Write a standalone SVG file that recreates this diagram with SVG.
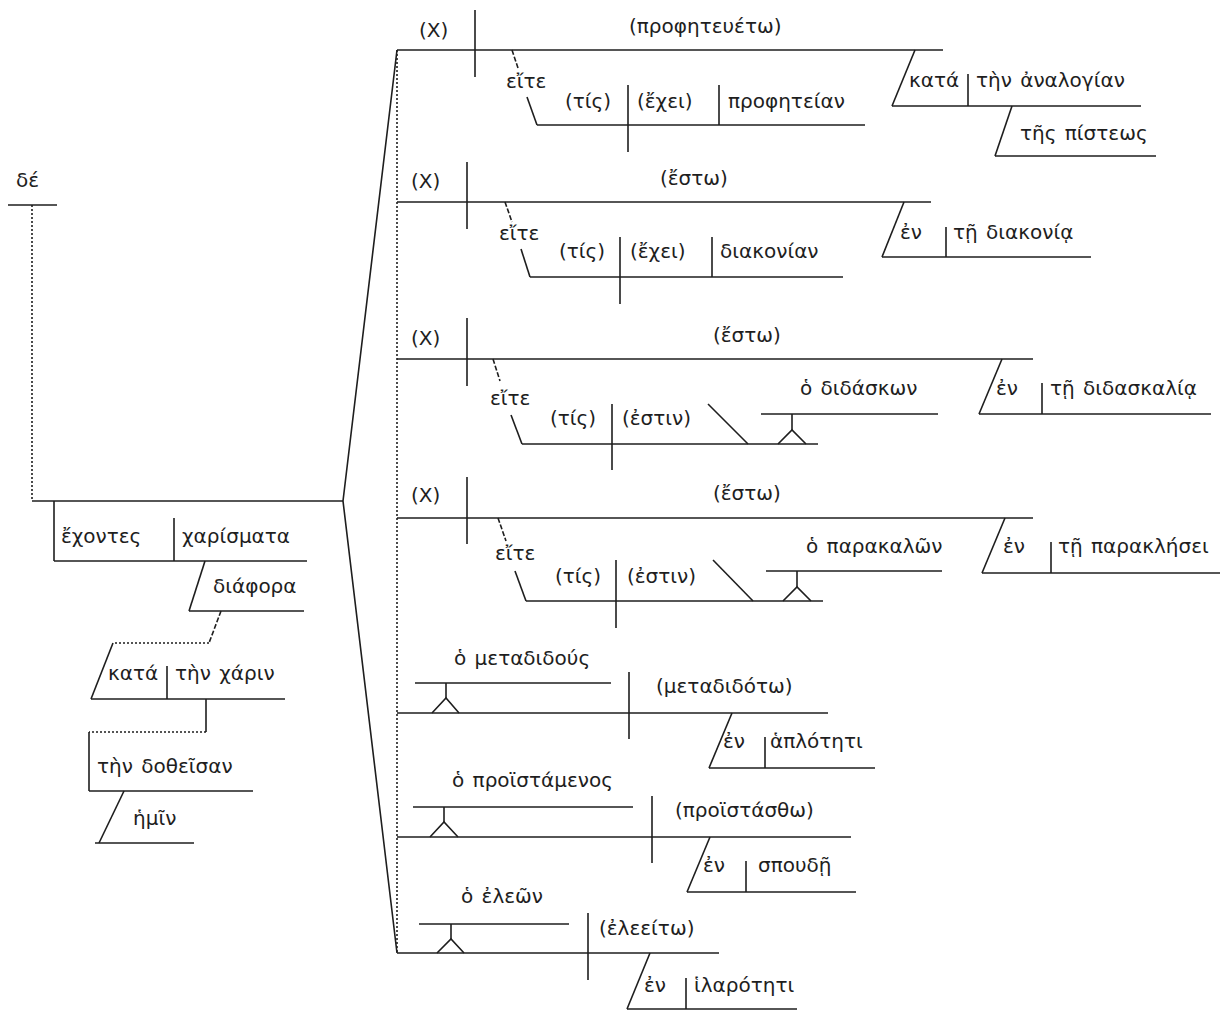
<svg xmlns="http://www.w3.org/2000/svg" width="1221" height="1011" viewBox="0 0 1221 1011">
<style>
.t{font-family:"DejaVu Sans","Noto Sans",sans-serif;font-size:20px;fill:#1e1e1e;word-spacing:2px}
.l{stroke:#1e1e1e;stroke-width:1.6;fill:none}
.d{stroke:#1e1e1e;stroke-width:1.6;fill:none;stroke-dasharray:2 2}
.s{stroke:#1e1e1e;stroke-width:1.6;fill:none;stroke-dasharray:5 2}
</style>
<rect width="1221" height="1011" fill="#ffffff"/>
<g id="connectors">
  <line class="d" x1="32" y1="205" x2="32" y2="501"/>
  <line class="l" x1="32" y1="501" x2="343" y2="501"/>
  <line class="l" x1="54" y1="501" x2="54" y2="561"/>
  <line class="l" x1="174" y1="518" x2="174" y2="561"/>
  <line class="l" x1="205" y1="561" x2="189" y2="611"/>
  <line class="s" x1="221" y1="611" x2="209" y2="643"/>
  <line class="d" x1="209" y1="643" x2="113" y2="643"/>
  <line class="l" x1="113" y1="643" x2="91" y2="699"/>
  <line class="l" x1="167" y1="666" x2="167" y2="699"/>
  <line class="l" x1="206" y1="699" x2="206" y2="732"/>
  <line class="d" x1="206" y1="732" x2="89" y2="732"/>
  <line class="l" x1="89" y1="732" x2="89" y2="791"/>
  <line class="l" x1="124" y1="791" x2="99" y2="843"/>
  <polyline class="l" points="397,50 343,501 397,953"/>
  <line class="d" x1="397" y1="50" x2="397" y2="953"/>
  <line class="l" x1="475" y1="10" x2="475" y2="77"/>
  <line class="s" x1="512" y1="50" x2="518" y2="68"/>
  <line class="l" x1="527" y1="97" x2="537" y2="125"/>
  <line class="l" x1="628" y1="85" x2="628" y2="152"/>
  <line class="l" x1="719" y1="85" x2="719" y2="125"/>
  <line class="l" x1="915" y1="50" x2="892" y2="106"/>
  <line class="l" x1="968" y1="74" x2="968" y2="106"/>
  <line class="l" x1="1012" y1="106" x2="995" y2="156"/>
  <line class="l" x1="467" y1="162" x2="467" y2="229"/>
  <line class="s" x1="505" y1="202" x2="512" y2="222"/>
  <line class="l" x1="521" y1="249" x2="530" y2="277"/>
  <line class="l" x1="620" y1="237" x2="620" y2="304"/>
  <line class="l" x1="712" y1="237" x2="712" y2="277"/>
  <line class="l" x1="904" y1="202" x2="882" y2="257"/>
  <line class="l" x1="946" y1="227" x2="946" y2="257"/>
  <line class="l" x1="467" y1="318" x2="467" y2="386"/>
  <line class="s" x1="493" y1="359" x2="500" y2="381"/>
  <line class="l" x1="511" y1="415" x2="522" y2="444"/>
  <line class="l" x1="612" y1="404" x2="612" y2="470"/>
  <line class="l" x1="708" y1="404" x2="748" y2="444"/>
  <line class="l" x1="792" y1="414" x2="792" y2="430"/>
  <polyline class="l" points="778,444 792,430 806,444"/>
  <line class="l" x1="1002" y1="359" x2="979" y2="414"/>
  <line class="l" x1="1042" y1="383" x2="1042" y2="414"/>
  <line class="l" x1="467" y1="477" x2="467" y2="544"/>
  <line class="s" x1="498" y1="518" x2="506" y2="541"/>
  <line class="l" x1="515" y1="571" x2="526" y2="601"/>
  <line class="l" x1="616" y1="560" x2="616" y2="628"/>
  <line class="l" x1="713" y1="560" x2="753" y2="601"/>
  <line class="l" x1="797" y1="571" x2="797" y2="587"/>
  <polyline class="l" points="783,601 797,587 811,601"/>
  <line class="l" x1="1005" y1="518" x2="982" y2="573"/>
  <line class="l" x1="1051" y1="542" x2="1051" y2="573"/>
  <line class="l" x1="446" y1="683" x2="446" y2="698"/>
  <polyline class="l" points="432,713 446,698 459,713"/>
  <line class="l" x1="629" y1="672" x2="629" y2="739"/>
  <line class="l" x1="732" y1="713" x2="709" y2="768"/>
  <line class="l" x1="765" y1="737" x2="765" y2="768"/>
  <line class="l" x1="444" y1="807" x2="444" y2="822"/>
  <polyline class="l" points="430,837 444,822 458,837"/>
  <line class="l" x1="652" y1="796" x2="652" y2="863"/>
  <line class="l" x1="710" y1="837" x2="687" y2="892"/>
  <line class="l" x1="746" y1="861" x2="746" y2="892"/>
  <line class="l" x1="451" y1="924" x2="451" y2="939"/>
  <polyline class="l" points="437,953 451,939 464,953"/>
  <line class="l" x1="588" y1="913" x2="588" y2="980"/>
  <line class="l" x1="650" y1="953" x2="627" y2="1009"/>
  <line class="l" x1="686" y1="978" x2="686" y2="1009"/>
</g>

<g id="n-de"><text class="t" x="16" y="187">δέ</text><line class="l" x1="8" y1="205" x2="57" y2="205"/></g>
<g id="n-echontes"><text class="t" x="61" y="543">ἔχοντες</text><line class="l" x1="54" y1="561" x2="174" y2="561"/></g>
<g id="n-charismata"><text class="t" x="182" y="543">χαρίσματα</text><line class="l" x1="174" y1="561" x2="307" y2="561"/></g>
<g id="n-diaphora"><text class="t" x="213" y="593">διάφορα</text><line class="l" x1="189" y1="611" x2="304" y2="611"/></g>
<g id="n-kata1"><text class="t" x="108" y="680">κατά</text><line class="l" x1="91" y1="699" x2="167" y2="699"/></g>
<g id="n-charin"><text class="t" x="175" y="680">τὴν χάριν</text><line class="l" x1="167" y1="699" x2="285" y2="699"/></g>
<g id="n-dotheisan"><text class="t" x="97" y="773">τὴν δοθεῖσαν</text><line class="l" x1="89" y1="791" x2="253" y2="791"/></g>
<g id="n-hemin"><text class="t" x="133" y="825">ἡμῖν</text><line class="l" x1="95" y1="843" x2="194" y2="843"/></g>

<g id="n-c1-x"><text class="t" x="419" y="37">(X)</text><line class="l" x1="397" y1="50" x2="475" y2="50"/></g>
<g id="n-c1-verb"><text class="t" x="629" y="33">(προφητευέτω)</text><line class="l" x1="475" y1="50" x2="943" y2="50"/></g>
<g id="n-c1-eite"><text class="t" x="506" y="88">εἴτε</text></g>
<g id="n-c1-tis"><text class="t" x="565" y="108">(τίς)</text><line class="l" x1="537" y1="125" x2="628" y2="125"/></g>
<g id="n-c1-echei"><text class="t" x="637" y="108">(ἔχει)</text><line class="l" x1="628" y1="125" x2="719" y2="125"/></g>
<g id="n-c1-obj"><text class="t" x="728" y="108">προφητείαν</text><line class="l" x1="719" y1="125" x2="865" y2="125"/></g>
<g id="n-c1-kata"><text class="t" x="909" y="87">κατά</text><line class="l" x1="892" y1="106" x2="968" y2="106"/></g>
<g id="n-c1-analogian"><text class="t" x="976" y="87">τὴν ἀναλογίαν</text><line class="l" x1="968" y1="106" x2="1141" y2="106"/></g>
<g id="n-c1-pisteos"><text class="t" x="1020" y="140">τῆς πίστεως</text><line class="l" x1="995" y1="156" x2="1156" y2="156"/></g>

<g id="n-c2-x"><text class="t" x="411" y="188">(X)</text><line class="l" x1="397" y1="202" x2="467" y2="202"/></g>
<g id="n-c2-verb"><text class="t" x="660" y="185">(ἔστω)</text><line class="l" x1="467" y1="202" x2="931" y2="202"/></g>
<g id="n-c2-eite"><text class="t" x="499" y="240">εἴτε</text></g>
<g id="n-c2-tis"><text class="t" x="559" y="258">(τίς)</text><line class="l" x1="530" y1="277" x2="620" y2="277"/></g>
<g id="n-c2-echei"><text class="t" x="630" y="258">(ἔχει)</text><line class="l" x1="620" y1="277" x2="712" y2="277"/></g>
<g id="n-c2-obj"><text class="t" x="720" y="258">διακονίαν</text><line class="l" x1="712" y1="277" x2="843" y2="277"/></g>
<g id="n-c2-en"><text class="t" x="900" y="239">ἐν</text><line class="l" x1="882" y1="257" x2="946" y2="257"/></g>
<g id="n-c2-diakonia"><text class="t" x="953" y="239">τῇ διακονίᾳ</text><line class="l" x1="946" y1="257" x2="1091" y2="257"/></g>

<g id="n-c3-x"><text class="t" x="411" y="345">(X)</text><line class="l" x1="397" y1="359" x2="467" y2="359"/></g>
<g id="n-c3-verb"><text class="t" x="713" y="342">(ἔστω)</text><line class="l" x1="467" y1="359" x2="1033" y2="359"/></g>
<g id="n-c3-eite"><text class="t" x="490" y="405">εἴτε</text></g>
<g id="n-c3-tis"><text class="t" x="550" y="425">(τίς)</text><line class="l" x1="522" y1="444" x2="612" y2="444"/></g>
<g id="n-c3-estin"><text class="t" x="622" y="425">(ἐστιν)</text><line class="l" x1="612" y1="444" x2="818" y2="444"/></g>
<g id="n-c3-didaskon"><text class="t" x="800" y="395">ὁ διδάσκων</text><line class="l" x1="761" y1="414" x2="938" y2="414"/></g>
<g id="n-c3-en"><text class="t" x="996" y="395">ἐν</text><line class="l" x1="979" y1="414" x2="1042" y2="414"/></g>
<g id="n-c3-didaskalia"><text class="t" x="1050" y="395">τῇ διδασκαλίᾳ</text><line class="l" x1="1042" y1="414" x2="1211" y2="414"/></g>

<g id="n-c4-x"><text class="t" x="411" y="502">(X)</text><line class="l" x1="397" y1="518" x2="467" y2="518"/></g>
<g id="n-c4-verb"><text class="t" x="713" y="500">(ἔστω)</text><line class="l" x1="467" y1="518" x2="1033" y2="518"/></g>
<g id="n-c4-eite"><text class="t" x="495" y="560">εἴτε</text></g>
<g id="n-c4-tis"><text class="t" x="555" y="583">(τίς)</text><line class="l" x1="526" y1="601" x2="616" y2="601"/></g>
<g id="n-c4-estin"><text class="t" x="627" y="583">(ἐστιν)</text><line class="l" x1="616" y1="601" x2="823" y2="601"/></g>
<g id="n-c4-parakalon"><text class="t" x="806" y="553">ὁ παρακαλῶν</text><line class="l" x1="766" y1="571" x2="942" y2="571"/></g>
<g id="n-c4-en"><text class="t" x="1003" y="553">ἐν</text><line class="l" x1="982" y1="573" x2="1051" y2="573"/></g>
<g id="n-c4-paraklesei"><text class="t" x="1058" y="553">τῇ παρακλήσει</text><line class="l" x1="1051" y1="573" x2="1220" y2="573"/></g>

<g id="n-c5-subj"><text class="t" x="454" y="665">ὁ μεταδιδούς</text><line class="l" x1="415" y1="683" x2="611" y2="683"/><line class="l" x1="397" y1="713" x2="629" y2="713"/></g>
<g id="n-c5-verb"><text class="t" x="656" y="693">(μεταδιδότω)</text><line class="l" x1="629" y1="713" x2="828" y2="713"/></g>
<g id="n-c5-en"><text class="t" x="723" y="748">ἐν</text><line class="l" x1="709" y1="768" x2="765" y2="768"/></g>
<g id="n-c5-haploteti"><text class="t" x="770" y="748">ἁπλότητι</text><line class="l" x1="765" y1="768" x2="875" y2="768"/></g>

<g id="n-c6-subj"><text class="t" x="452" y="787">ὁ προϊστάμενος</text><line class="l" x1="413" y1="807" x2="633" y2="807"/><line class="l" x1="397" y1="837" x2="652" y2="837"/></g>
<g id="n-c6-verb"><text class="t" x="675" y="817">(προϊστάσθω)</text><line class="l" x1="652" y1="837" x2="851" y2="837"/></g>
<g id="n-c6-en"><text class="t" x="703" y="872">ἐν</text><line class="l" x1="687" y1="892" x2="746" y2="892"/></g>
<g id="n-c6-spoude"><text class="t" x="758" y="872">σπουδῇ</text><line class="l" x1="746" y1="892" x2="856" y2="892"/></g>

<g id="n-c7-subj"><text class="t" x="461" y="903">ὁ ἐλεῶν</text><line class="l" x1="419" y1="924" x2="569" y2="924"/><line class="l" x1="397" y1="953" x2="588" y2="953"/></g>
<g id="n-c7-verb"><text class="t" x="599" y="935">(ἐλεείτω)</text><line class="l" x1="588" y1="953" x2="719" y2="953"/></g>
<g id="n-c7-en"><text class="t" x="644" y="992">ἐν</text><line class="l" x1="627" y1="1009" x2="686" y2="1009"/></g>
<g id="n-c7-hilaroteti"><text class="t" x="694" y="992">ἱλαρότητι</text><line class="l" x1="686" y1="1009" x2="797" y2="1009"/></g>
</svg>
